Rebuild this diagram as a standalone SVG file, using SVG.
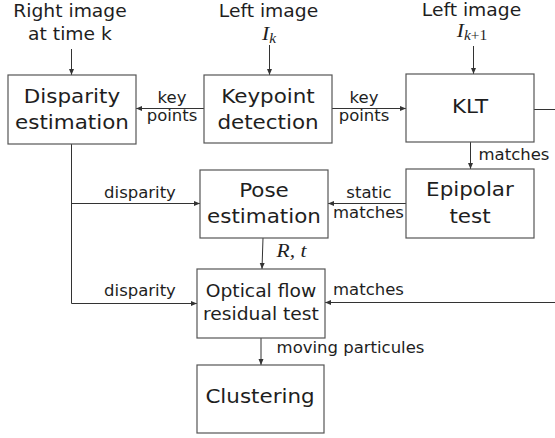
<svg xmlns="http://www.w3.org/2000/svg" width="555" height="438" viewBox="0 0 555 438">
  <style>
    .box { fill: #ffffff; stroke: #555555; stroke-width: 1.2; }
    .wire { fill: none; stroke: #333333; stroke-width: 1; }
    text { font-family: "DejaVu Sans", "Liberation Sans", sans-serif; fill: #1e1e1e; text-anchor: middle;
           transform-box: fill-box; transform-origin: center; transform: scaleX(1.1); }
    .node { font-size: 19.5px; }
    .node-sm { font-size: 17px; }
    .edge { font-size: 15px; }
    .src { font-size: 17px; }
    .math { font-family: "Liberation Serif", "DejaVu Serif", serif; font-style: italic; font-size: 19.5px; }
  </style>
  <defs>
    <marker id="arrow" markerUnits="userSpaceOnUse" markerWidth="6" markerHeight="6" refX="6" refY="3" orient="auto">
      <path d="M0,0.5 L6,3 L0,5.5 z" fill="#333333"/>
    </marker>
  </defs>

  <!-- input labels -->
  <g id="inputs">
    <text class="src" x="70" y="17">Right image</text>
    <text class="src" x="70" y="40">at time k</text>
    <text class="src" x="268.5" y="17">Left image</text>
    <text class="math" x="269" y="40">I<tspan font-size="14" dy="3">k</tspan></text>
    <text class="src" x="471.5" y="16">Left image</text>
    <text class="math" x="472" y="37">I<tspan font-size="14" dy="3">k</tspan><tspan font-size="14" font-style="normal">+1</tspan></text>
  </g>

  <!-- connectors -->
  <g id="connectors" class="wire">
    <line x1="71.5" y1="49" x2="71.5" y2="75" marker-end="url(#arrow)"/>
    <line x1="269.5" y1="45" x2="269.5" y2="75" marker-end="url(#arrow)"/>
    <line x1="473.5" y1="46" x2="473.5" y2="74" marker-end="url(#arrow)"/>
    <line x1="204" y1="108.5" x2="136" y2="108.5" marker-end="url(#arrow)"/>
    <line x1="332" y1="108.5" x2="406" y2="108.5" marker-end="url(#arrow)"/>
    <line x1="534" y1="109.5" x2="555" y2="109.5"/>
    <line x1="470.5" y1="142" x2="470.5" y2="169" marker-end="url(#arrow)"/>
    <line x1="406" y1="203.5" x2="328" y2="203.5" marker-end="url(#arrow)"/>
    <polyline points="71.5,144 71.5,303.5 197,303.5" marker-end="url(#arrow)"/>
    <line x1="71.5" y1="203.5" x2="200" y2="203.5" marker-end="url(#arrow)"/>
    <line x1="263" y1="238" x2="262" y2="269" marker-end="url(#arrow)"/>
    <line x1="555" y1="302.5" x2="325" y2="302.5" marker-end="url(#arrow)"/>
    <line x1="261" y1="338" x2="261" y2="365" marker-end="url(#arrow)"/>
  </g>

  <!-- connector labels -->
  <g id="connector-labels">
    <text class="edge" x="172" y="103">key</text>
    <text class="edge" x="172" y="121">points</text>
    <text class="edge" x="364" y="103">key</text>
    <text class="edge" x="364" y="121">points</text>
    <text class="edge" x="514" y="160">matches</text>
    <text class="edge" x="140" y="198">disparity</text>
    <text class="edge" x="369" y="198">static</text>
    <text class="edge" x="368.5" y="218">matches</text>
    <text class="math" x="291.5" y="257">R, t</text>
    <text class="edge" x="140" y="296">disparity</text>
    <text class="edge" x="368.5" y="295">matches</text>
    <text class="edge" x="350.5" y="353">moving particules</text>
  </g>

  <!-- nodes -->
  <g id="disparity-estimation">
    <rect class="box" x="8" y="75" width="128" height="69"/>
    <text class="node" x="72" y="103">Disparity</text>
    <text class="node" x="72" y="129">estimation</text>
  </g>
  <g id="keypoint-detection">
    <rect class="box" x="204" y="75" width="128" height="68"/>
    <text class="node" x="268" y="103">Keypoint</text>
    <text class="node" x="268" y="129">detection</text>
  </g>
  <g id="klt">
    <rect class="box" x="406" y="74" width="128" height="68"/>
    <text class="node" x="470" y="113">KLT</text>
  </g>
  <g id="epipolar-test">
    <rect class="box" x="406" y="169" width="128" height="69"/>
    <text class="node" x="470" y="196">Epipolar</text>
    <text class="node" x="470" y="223">test</text>
  </g>
  <g id="pose-estimation">
    <rect class="box" x="200" y="170" width="128" height="68"/>
    <text class="node" x="264" y="197">Pose</text>
    <text class="node" x="264" y="223">estimation</text>
  </g>
  <g id="optical-flow-test">
    <rect class="box" x="197" y="269" width="128" height="69"/>
    <text class="node-sm" x="261" y="297">Optical flow</text>
    <text class="node-sm" x="261" y="320">residual test</text>
  </g>
  <g id="clustering">
    <rect class="box" x="197" y="365" width="127" height="68"/>
    <text class="node" x="260" y="403">Clustering</text>
  </g>
</svg>
